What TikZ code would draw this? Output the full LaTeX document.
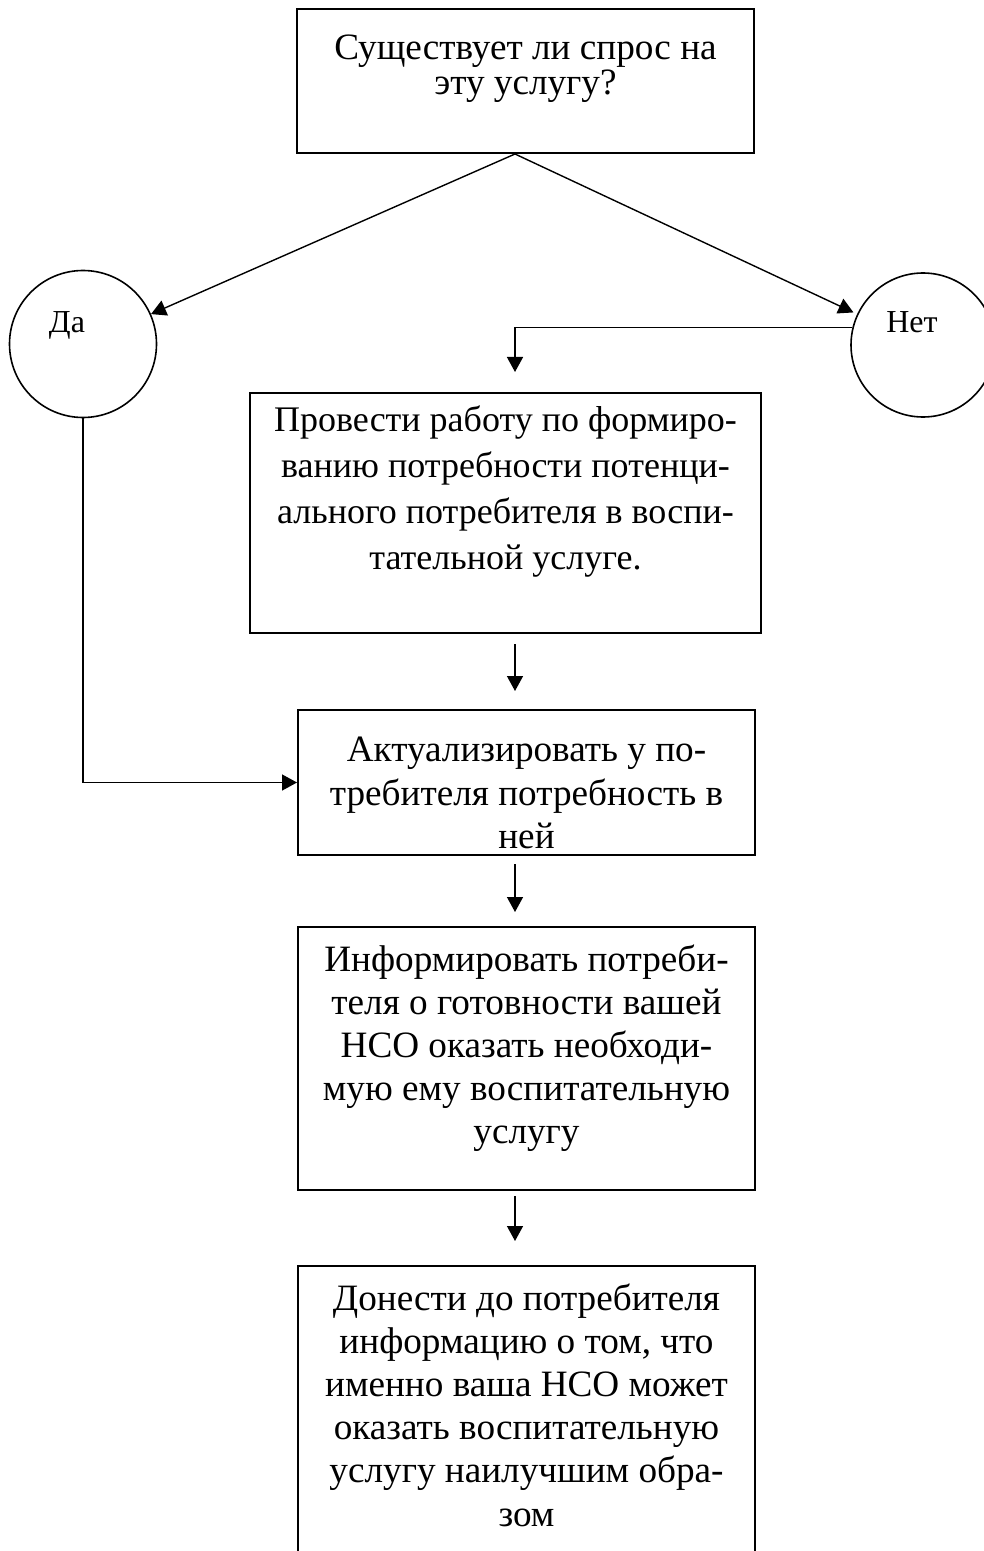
\documentclass[tikz,border=0pt]{standalone}
\usepackage{fontspec}
\setmainfont{Liberation Serif}
\usetikzlibrary{arrows.meta, positioning, calc}

\begin{document}
\begin{tikzpicture}[
    x=0.5pt, y=-0.5pt,
    box/.style={draw, line width=1pt, minimum width=228.5pt, inner sep=0pt},
    txt/.style={anchor=north, align=center, inner sep=0pt,
                font=\fontsize{18.6}{21.6}\selectfont},
    ring/.style={draw, circle, line width=0.8pt, inner sep=0pt},
    answer/.style={inner sep=0pt, font=\fontsize{16}{19}\selectfont},
    arrow/.style={-{Triangle[length=7.5pt, width=8pt]}, line width=0.7pt},
  ]
    \useasboundingbox (0,0) rectangle (984,1551);
    \coordinate (axis) at (515,0);

    % question
    \node[box, minimum height=72pt] (q) at (525.5,81) {};
    \node[txt, font=\fontsize{18.6}{17.5}\selectfont, below=13pt of q.north]
      (qtxt) {Существует ли спрос на\\эту услугу?};

    % answers
    \node[ring, minimum size=73.5pt] (yes) at (83,344) {};
    \node[answer] (yestxt) at (67,325) {Да};
    \node[ring, minimum size=72pt] (no) at (923,345) {};
    \node[answer] (notxt) at (912,322) {Нет};

    % steps
    \node[box, minimum width=255.5pt, minimum height=120pt] (work) at (505.5,513) {};
    \node[txt, font=\fontsize{18}{23}\selectfont, below=6.5pt of work.north]
      (worktxt) {Провести работу по формиро-\\ванию потребности потенци-\\ального потребителя в воспи-\\тательной услуге.};

    \node[box, minimum height=72.5pt] (act) at (526.5,782.5) {};
    \node[txt, below=14pt of act.north]
      (acttxt) {Актуализировать у по-\\требителя потребность в\\ней};

    \node[box, minimum height=131.5pt] (inform) at (526.5,1058.5) {};
    \node[txt, below=9pt of inform.north]
      (informtxt) {Информировать потреби-\\теля о готовности вашей\\НСО оказать необходи-\\мую ему воспитательную\\услугу};

    \node[box, minimum height=167pt] (deliver) at (526.5,1433) {};
    \node[txt, below=9pt of deliver.north]
      (delivertxt) {Донести до потребителя\\информацию о том, что\\именно ваша НСО может\\оказать воспитательную\\услугу наилучшим обра-\\зом};

    % arrows
    \draw[arrow] (q.south -| axis) -- (yes);
    \draw[arrow, shorten >=2pt] (q.south -| axis) -- (no);
    \draw[arrow, shorten >=10pt] (no.166) -| (work.north -| axis);
    \draw[arrow] (yes.south) |- (act.west);
    \draw[arrow, shorten <=5pt, shorten >=9pt] (work.south -| axis) -- (act.north -| axis);
    \draw[arrow, shorten <=4pt, shorten >=7pt] (act.south -| axis) -- (inform.north -| axis);
    \draw[arrow, shorten <=2.5pt, shorten >=12pt] (inform.south -| axis) -- (deliver.north -| axis);
  \end{tikzpicture}
\end{document}
